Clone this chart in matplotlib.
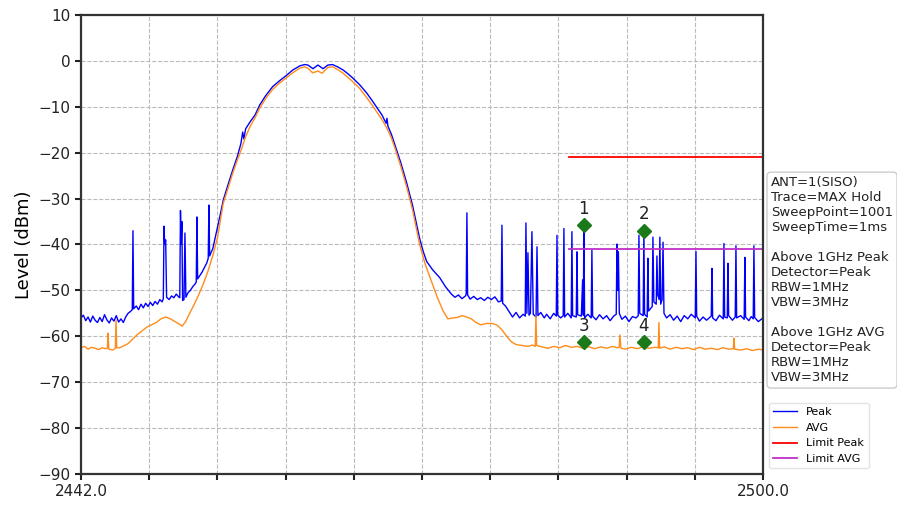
import matplotlib
matplotlib.use("Agg")
import matplotlib.pyplot as plt

# Peak trace (MAX hold), MHz / dBm
peak_trace = [
    (2442.0, -56.0), (2442.2, -55.4), (2442.4, -56.6), (2442.6, -55.8), (2442.8, -56.9),
    (2443.0, -55.6), (2443.2, -56.5), (2443.4, -57.0), (2443.6, -55.9), (2443.8, -56.8),
    (2444.0, -55.3), (2444.2, -56.4), (2444.4, -57.1), (2444.6, -56.0), (2444.8, -56.7),
    (2445.0, -55.5), (2445.2, -56.9), (2445.4, -56.2), (2445.6, -57.0), (2445.8, -55.8),
    (2446.0, -55.0), (2446.2, -54.6), (2446.36, -54.2), (2446.42, -37.0), (2446.48, -54.0),
    (2446.7, -53.4), (2446.9, -54.2), (2447.1, -53.0), (2447.3, -53.8), (2447.5, -52.8),
    (2447.7, -53.5), (2447.9, -52.6), (2448.1, -53.3), (2448.3, -52.4), (2448.5, -53.0),
    (2448.7, -52.0), (2448.9, -52.5), (2449.0, -51.8), (2449.06, -36.0), (2449.12, -40.0),
    (2449.2, -39.0), (2449.28, -51.5), (2449.5, -52.0), (2449.7, -51.2), (2449.9, -51.6),
    (2450.1, -50.8), (2450.3, -51.4), (2450.4, -51.6), (2450.46, -32.6), (2450.52, -40.0),
    (2450.58, -35.0), (2450.64, -52.2), (2450.76, -52.0), (2450.84, -37.5), (2450.92, -51.5),
    (2451.1, -50.5), (2451.3, -50.0), (2451.5, -49.2), (2451.7, -48.6), (2451.8, -48.2),
    (2451.86, -34.0), (2451.92, -47.5), (2452.1, -46.8), (2452.3, -46.0), (2452.5, -45.0),
    (2452.7, -44.0), (2452.82, -43.0), (2452.88, -31.4), (2452.94, -42.5), (2453.1, -41.5),
    (2453.2, -41.0), (2453.5, -37.5), (2453.8, -34.0), (2454.1, -30.3), (2454.5, -27.0),
    (2454.9, -23.8), (2455.3, -20.8), (2455.6, -18.0), (2455.75, -15.5), (2455.85, -17.0),
    (2456.0, -14.8), (2456.4, -13.2), (2456.8, -11.8), (2457.2, -9.6), (2457.7, -7.6),
    (2458.3, -5.6), (2458.9, -4.3), (2459.5, -3.1), (2460.0, -2.0), (2460.6, -1.1),
    (2461.0, -0.8), (2461.3, -0.9), (2461.73, -1.7), (2462.15, -0.9), (2462.58, -1.7),
    (2463.0, -0.9), (2463.4, -0.8), (2463.9, -1.4), (2464.3, -2.0), (2464.7, -2.8),
    (2465.1, -3.7), (2465.7, -5.2), (2466.3, -7.0), (2466.8, -8.8), (2467.2, -10.3),
    (2467.6, -11.8), (2467.95, -13.6), (2468.02, -12.5), (2468.1, -14.2), (2468.4, -16.0),
    (2468.7, -18.3), (2469.2, -22.2), (2469.7, -26.6), (2470.2, -31.5), (2470.8, -38.7),
    (2471.1, -41.5), (2471.4, -43.7), (2471.9, -45.5), (2472.5, -47.2), (2473.0, -49.2),
    (2473.5, -50.8), (2473.8, -51.5), (2474.1, -51.0), (2474.4, -51.8), (2474.7, -51.2),
    (2474.76, -50.8), (2474.82, -33.1), (2474.88, -51.0), (2475.1, -51.9), (2475.4, -51.3),
    (2475.7, -52.0), (2476.0, -51.6), (2476.3, -52.2), (2476.6, -51.5), (2476.9, -52.0),
    (2477.2, -51.4), (2477.5, -52.5), (2477.74, -52.3), (2477.8, -35.8), (2477.86, -52.8),
    (2478.1, -53.4), (2478.4, -54.6), (2478.7, -55.8), (2479.0, -54.8), (2479.3, -56.0),
    (2479.6, -55.2), (2479.78, -55.6), (2479.84, -35.3), (2479.92, -55.0), (2480.01, -41.8),
    (2480.1, -55.4), (2480.22, -55.0), (2480.35, -37.2), (2480.46, -55.2), (2480.7, -55.8),
    (2480.78, -40.5), (2480.86, -55.5), (2481.1, -54.8), (2481.4, -56.0), (2481.6, -55.2),
    (2481.9, -56.2), (2482.2, -55.0), (2482.42, -55.6), (2482.48, -38.0), (2482.54, -55.4),
    (2482.8, -56.0), (2483.01, -55.5), (2483.07, -36.5), (2483.13, -55.8), (2483.4, -55.0),
    (2483.69, -56.0), (2483.75, -37.2), (2483.81, -55.5), (2484.12, -55.8), (2484.18, -41.6),
    (2484.24, -55.3), (2484.55, -55.6), (2484.66, -47.7), (2484.72, -55.4), (2484.77, -35.5),
    (2484.83, -56.0), (2485.1, -55.2), (2485.39, -56.0), (2485.45, -41.2), (2485.51, -55.6),
    (2485.8, -56.4), (2486.1, -55.3), (2486.4, -56.2), (2486.7, -55.5), (2487.0, -56.6),
    (2487.3, -55.6), (2487.52, -55.2), (2487.58, -39.9), (2487.64, -50.0), (2487.7, -41.6),
    (2487.78, -55.0), (2488.0, -56.3), (2488.3, -55.6), (2488.6, -56.8), (2488.9, -55.7),
    (2489.2, -56.0), (2489.39, -55.5), (2489.45, -38.0), (2489.52, -55.0), (2489.81, -55.5),
    (2489.87, -37.0), (2489.93, -55.2), (2490.15, -55.8), (2490.21, -43.0), (2490.27, -54.5),
    (2490.58, -53.5), (2490.64, -38.4), (2490.72, -52.5), (2490.92, -53.0), (2490.98, -42.5),
    (2491.05, -51.0), (2491.17, -52.0), (2491.23, -38.4), (2491.3, -53.0), (2491.42, -52.0),
    (2491.5, -39.5), (2491.58, -55.0), (2491.8, -56.0), (2492.1, -55.3), (2492.4, -56.5),
    (2492.7, -55.6), (2493.0, -56.8), (2493.3, -55.5), (2493.6, -56.2), (2493.9, -55.2),
    (2494.24, -56.0), (2494.3, -41.5), (2494.36, -55.6), (2494.6, -56.7), (2494.9, -55.8),
    (2495.2, -56.5), (2495.6, -55.6), (2495.66, -45.2), (2495.72, -56.0), (2496.0, -56.6),
    (2496.3, -55.4), (2496.62, -56.2), (2496.68, -39.8), (2496.74, -55.8), (2496.96, -56.0),
    (2497.02, -44.1), (2497.08, -55.5), (2497.4, -56.5), (2497.64, -55.8), (2497.7, -40.3),
    (2497.76, -56.0), (2498.1, -55.5), (2498.4, -56.3), (2498.46, -42.8), (2498.52, -55.8),
    (2498.8, -56.6), (2499.0, -55.7), (2499.17, -56.2), (2499.23, -40.3), (2499.29, -55.9),
    (2499.6, -56.8), (2500.0, -56.0),
]

# AVG trace, MHz / dBm
avg_trace = [
    (2442.0, -62.5), (2442.3, -62.2), (2442.6, -62.8), (2442.9, -62.4), (2443.2, -62.6),
    (2443.5, -62.9), (2443.8, -62.5), (2444.1, -62.7), (2444.24, -62.6), (2444.3, -59.3),
    (2444.36, -62.8), (2444.7, -63.0), (2444.92, -62.6), (2444.98, -56.4), (2445.04, -62.5),
    (2445.3, -62.5), (2445.7, -62.0), (2446.0, -61.6), (2446.4, -60.6), (2446.8, -59.6),
    (2447.2, -58.8), (2447.6, -58.0), (2448.0, -57.5), (2448.4, -57.0), (2448.8, -56.2),
    (2449.2, -55.8), (2449.6, -56.2), (2450.0, -56.8), (2450.4, -57.4), (2450.6, -57.8),
    (2450.9, -56.8), (2451.2, -55.2), (2451.6, -53.2), (2452.0, -51.0), (2452.4, -48.6),
    (2452.8, -45.8), (2453.2, -42.5), (2453.6, -38.6), (2454.1, -31.0), (2454.5, -27.8),
    (2454.9, -24.5), (2455.3, -21.6), (2455.7, -18.8), (2456.0, -16.5), (2456.4, -14.2),
    (2456.8, -12.4), (2457.2, -10.3), (2457.7, -8.2), (2458.3, -6.2), (2458.9, -4.8),
    (2459.5, -3.6), (2460.0, -2.6), (2460.6, -1.6), (2461.0, -1.3), (2461.3, -1.6),
    (2461.7, -2.6), (2462.15, -2.2), (2462.5, -2.7), (2463.0, -1.4), (2463.4, -1.3),
    (2463.9, -2.0), (2464.3, -2.7), (2464.7, -3.6), (2465.1, -4.5), (2465.7, -6.0),
    (2466.3, -8.0), (2466.8, -9.8), (2467.2, -11.3), (2467.6, -12.8), (2468.0, -14.6),
    (2468.4, -16.8), (2468.7, -19.0), (2469.2, -23.0), (2469.7, -27.5), (2470.2, -32.5),
    (2470.8, -40.0), (2471.3, -44.5), (2471.8, -48.0), (2472.3, -51.5), (2472.8, -54.5),
    (2473.2, -56.2), (2473.6, -56.0), (2474.0, -55.9), (2474.4, -55.5), (2474.8, -55.8),
    (2475.2, -56.2), (2475.6, -57.0), (2476.0, -57.5), (2476.5, -57.2), (2477.0, -57.2),
    (2477.4, -57.6), (2477.8, -58.6), (2478.2, -60.0), (2478.6, -61.2), (2479.0, -61.8),
    (2479.5, -62.0), (2480.0, -62.2), (2480.4, -61.9), (2480.63, -62.2), (2480.69, -55.5),
    (2480.75, -62.0), (2481.2, -62.3), (2481.7, -62.6), (2482.2, -62.2), (2482.7, -62.5),
    (2483.2, -62.0), (2483.7, -62.4), (2484.2, -62.2), (2484.7, -62.6), (2485.2, -62.3),
    (2485.7, -62.7), (2486.2, -62.3), (2486.7, -62.6), (2487.2, -62.2), (2487.6, -62.5),
    (2487.77, -62.4), (2487.83, -59.7), (2487.92, -62.6), (2488.3, -62.8), (2488.8, -62.4),
    (2489.3, -62.7), (2489.8, -62.3), (2490.3, -62.6), (2490.8, -62.4), (2491.09, -62.5),
    (2491.15, -57.0), (2491.21, -62.6), (2491.6, -62.3), (2492.1, -62.8), (2492.6, -62.4),
    (2493.1, -62.7), (2493.6, -62.5), (2494.1, -62.9), (2494.6, -62.4), (2495.1, -62.8),
    (2495.6, -62.6), (2496.1, -62.9), (2496.6, -62.5), (2497.1, -62.8), (2497.47, -62.7),
    (2497.53, -60.4), (2497.59, -62.8), (2498.1, -63.0), (2498.6, -62.7), (2499.1, -63.1),
    (2499.6, -62.8), (2500.0, -63.0),
]

limit_mhz = [2483.5, 2500.0]
limit_peak = [-21.0, -21.0]
limit_avg = [-41.0, -41.0]

marker_labels = ["1", "2", "3", "4"]
marker_mhz = [2484.77, 2489.87, 2484.77, 2489.87]
marker_dbm = [-35.8, -37.0, -61.3, -61.3]

info_text = ("ANT=1(SISO)\nTrace=MAX Hold\nSweepPoint=1001\nSweepTime=1ms\n\n"
             "Above 1GHz Peak\nDetector=Peak\nRBW=1MHz\nVBW=3MHz\n\n"
             "Above 1GHz AVG\nDetector=Peak\nRBW=1MHz\nVBW=3MHz")

peak_mhz, peak_dbm = zip(*peak_trace)
avg_mhz, avg_dbm = zip(*avg_trace)

fig = plt.figure(figsize=(8.97, 5.05), dpi=100)
ax = fig.add_axes([0.0903, 0.0614, 0.7603, 0.9089])

ax.plot(peak_mhz, peak_dbm, color='blue', lw=1.0, label='Peak')
ax.plot(avg_mhz, avg_dbm, color='#ff8c1a', lw=1.0, label='AVG')
ax.plot(limit_mhz, limit_peak, color='red', lw=1.3, label='Limit Peak')
ax.plot(limit_mhz, limit_avg, color='#c030c8', lw=1.3, label='Limit AVG')

ax.plot(marker_mhz, marker_dbm, linestyle='none', marker='D', markersize=7,
        color='#1a7a1a', zorder=5)
for lab, x, y in zip(marker_labels, marker_mhz, marker_dbm):
    ax.text(x, y + 1.6, lab, ha='center', va='bottom', fontsize=12, color='#222222')

ax.set_xlim(2442.0, 2500.0)
ax.set_ylim(-90, 10)
xt = [2442.0 + 5.8 * i for i in range(11)]
ax.set_xticks(xt)
ax.set_xticklabels(['2442.0'] + [''] * 9 + ['2500.0'])
ax.set_yticks(range(-90, 11, 10))
ax.tick_params(labelsize=11, width=1.5, length=4, colors='#222222')

ax.grid(True, linestyle='--', color='#bbbbbb', lw=0.8)
for sp in ax.spines.values():
    sp.set_linewidth(1.6)
    sp.set_color('#333333')

ax.set_ylabel('Level (dBm)', fontsize=13)
ax.set_xlabel('Frequency (MHz)', fontsize=13)

ax.text(1.0117, 0.649, info_text, transform=ax.transAxes, va='top', ha='left',
        fontsize=9.5, linespacing=1.2, color='#222222',
        bbox=dict(boxstyle='round,pad=0.3', fc='white', ec='#cccccc'))

ax.legend(loc='lower left', bbox_to_anchor=(1.0, 0.0), fontsize=8,
          handlelength=2.2, frameon=True, edgecolor='#dddddd')

fig.savefig('out.png', dpi=100)
